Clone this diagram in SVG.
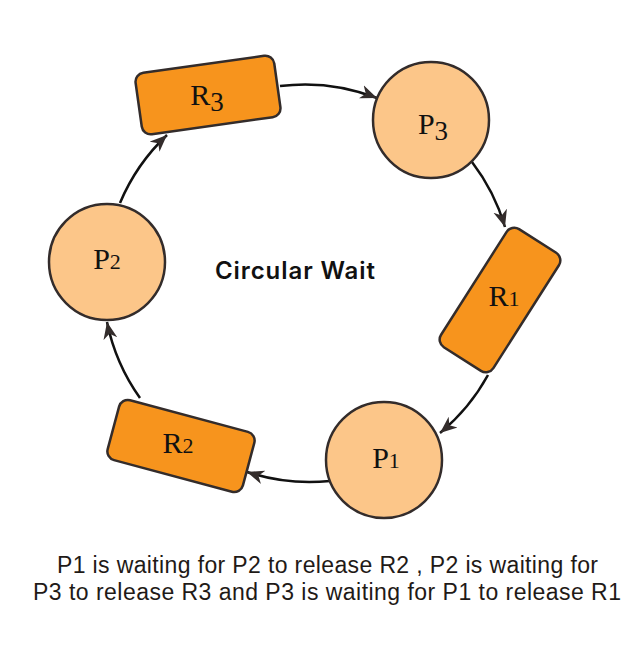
<svg xmlns="http://www.w3.org/2000/svg" width="626" height="672" viewBox="0 0 626 672">
<style>
.res{fill:#F7941D;stroke:#332C2B;stroke-width:2.5}
.proc{fill:#FCC689;stroke:#332C2B;stroke-width:2.5}
.lbl{font-family:"Liberation Serif","DejaVu Serif",serif;font-size:30px;fill:#111;text-anchor:middle}
.d{font-size:22px}
.d3{font-size:27px}
.edge{fill:none;stroke:#111;stroke-width:2.5;marker-end:url(#arr)}
.cap{font-family:"Liberation Sans",Arial,sans-serif;font-size:23px;fill:#1f1a17}
</style>
<defs>
<marker id="arr" markerUnits="userSpaceOnUse" markerWidth="18" markerHeight="16" viewBox="0 0 18 16" refX="17" refY="8" orient="auto">
<path d="M0,1 L17,8 L0,15 L5,8 Z" fill="#332C2B"/>
</marker>
</defs>
<rect width="626" height="672" fill="#fff"/>
<g id="connectors">
<path class="edge" d="M280,86 A200,200 0 0 1 377,98"/>
<path class="edge" d="M472,162 A200,200 0 0 1 505,227"/>
<path class="edge" d="M488,375 A200,200 0 0 1 440,433"/>
<path class="edge" d="M330,481 A200,200 0 0 1 247,472"/>
<path class="edge" d="M140,398 A200,200 0 0 1 107,322"/>
<path class="edge" d="M120,203 A200,200 0 0 1 167,135"/>
</g>
<g id="R3">
<rect class="res" x="-70" y="-31" width="140" height="62" rx="9" transform="translate(208,95) rotate(-8)"/>
<text class="lbl" x="207" y="105">R<tspan class="d3" dy="6">3</tspan></text>
</g>
<g id="P3">
<circle class="proc" cx="431" cy="120" r="58"/>
<text class="lbl" x="433" y="134">P<tspan class="d3" dy="6">3</tspan></text>
</g>
<g id="R1">
<rect class="res" x="-70" y="-31" width="140" height="62" rx="9" transform="translate(500,300) rotate(-57.5)"/>
<text class="lbl" x="504" y="306">R<tspan class="d">1</tspan></text>
</g>
<g id="P1">
<circle class="proc" cx="384" cy="460" r="58"/>
<text class="lbl" x="386" y="468">P<tspan class="d">1</tspan></text>
</g>
<g id="R2">
<rect class="res" x="-70" y="-31" width="140" height="62" rx="9" transform="translate(181,446) rotate(15)"/>
<text class="lbl" x="178" y="453">R<tspan class="d">2</tspan></text>
</g>
<g id="P2">
<circle class="proc" cx="107" cy="262" r="58"/>
<text class="lbl" x="107" y="269">P<tspan class="d">2</tspan></text>
</g>
<g id="title">
<text x="215" y="279" font-family="Inter,'Liberation Sans',sans-serif" font-weight="600" font-size="24" fill="#111" textLength="160">Circular Wait</text>
</g>
<g id="caption">
<text class="cap" x="57" y="573" textLength="541">P1 is waiting for P2 to release R2 , P2 is waiting for</text>
<text class="cap" x="33" y="600" textLength="588">P3 to release R3 and P3 is waiting for P1 to release R1</text>
</g>
</svg>
